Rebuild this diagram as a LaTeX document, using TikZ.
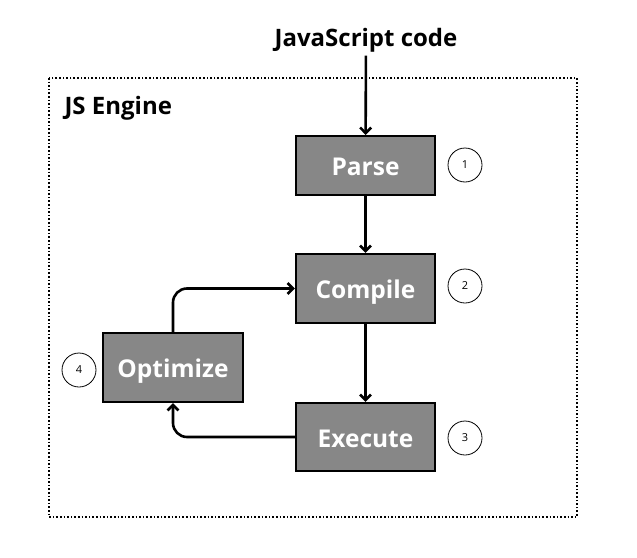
\documentclass[tikz,border=0pt]{standalone}
\usepackage{fontspec}
\setmainfont{Open Sans}
\usepackage{tikz}
\usetikzlibrary{arrows.meta}
\tikzset{>={Straight Barb[length=5.5pt,width=11pt]}}
\tikzset{
stage/.style={draw=black, line width=2.2pt, fill=black!47, text=white, minimum width=139pt, minimum height=68pt, inner sep=0pt, text height=20pt, text depth=0pt, font=\fontsize{24.5}{28}\selectfont\bfseries},
num/.style={draw=black, circle, line width=0.8pt, minimum size=34pt, inner sep=0pt, font=\fontsize{11}{13}\selectfont},
flow/.style={->, line width=2.6pt, rounded corners=14pt}
}

\begin{document}
\begin{tikzpicture}[x=1pt, y=-1pt]
\useasboundingbox (0,0) rectangle (637,557);
\draw[dotted, line width=1.6pt] (49,78) rectangle (577,517);
\node (code) at (366,40) {\fontsize{24}{28}\selectfont\bfseries JavaScript code};
\node[anchor=west] (engine) at (61,108) {\fontsize{24}{28}\selectfont\bfseries JS Engine};
\node[stage, minimum height=59pt] (parse) at (365.5,165.5) {Parse};
\node[stage, minimum height=69pt] (compile) at (365.5,288.5) {Compile};
\node[stage] (execute) at (365.5,437) {Execute};
\node[stage, minimum width=140pt, minimum height=69pt] (optimize) at (173,367.5) {Optimize};
\node[num] (n1) at (465,165) {1};
\node[num] (n2) at (465,286) {2};
\node[num] (n3) at (465,438) {3};
\node[num] (n4) at (79,370) {4};
\draw[flow] (code) -- (parse);
\draw[flow] (parse) -- (compile);
\draw[flow] (compile) -- (execute);
\draw[flow] (execute.west) -| (optimize.south);
\draw[flow] (optimize.north) |- (compile.west);
\end{tikzpicture}
\end{document}
